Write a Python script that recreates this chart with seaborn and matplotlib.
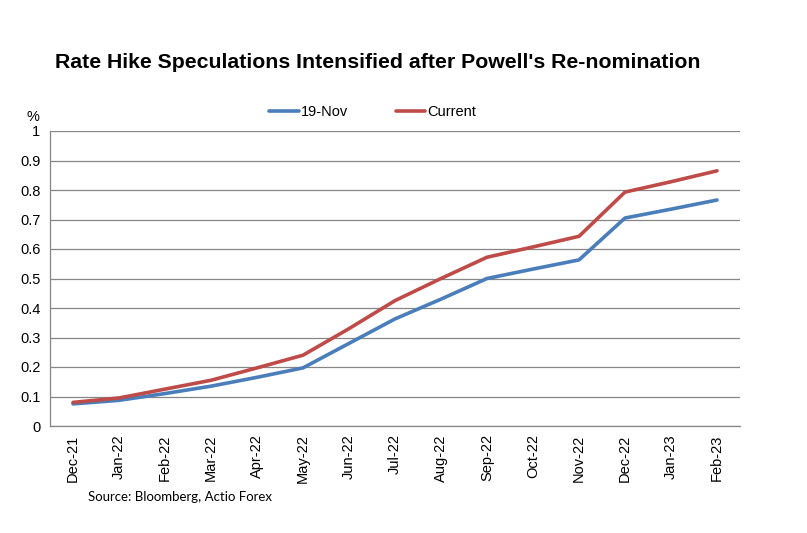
import numpy as np
import matplotlib
matplotlib.use('Agg')
import matplotlib.pyplot as plt
import seaborn as sns
import pandas as pd
from matplotlib.ticker import FixedLocator

months = ['Dec-21', 'Jan-22', 'Feb-22', 'Mar-22', 'Apr-22', 'May-22', 'Jun-22', 'Jul-22',
          'Aug-22', 'Sep-22', 'Oct-22', 'Nov-22', 'Dec-22', 'Jan-23', 'Feb-23']
nov19 = [0.075, 0.087, 0.110, 0.135, 0.165, 0.197, 0.280, 0.363,
         0.430, 0.500, 0.532, 0.563, 0.705, 0.735, 0.766]
current = [0.080, 0.095, 0.125, 0.155, 0.197, 0.240, 0.330, 0.425,
           0.500, 0.572, 0.607, 0.643, 0.793, 0.828, 0.865]
series_names = ['19-Nov', 'Current']
yticks = [0, 0.1, 0.2, 0.3, 0.4, 0.5, 0.6, 0.7, 0.8, 0.9, 1]
ytick_labels = ['0', '0.1', '0.2', '0.3', '0.4', '0.5', '0.6', '0.7', '0.8', '0.9', '1']

df = pd.DataFrame({
    'month': months * 2,
    'value': nov19 + current,
    'series': [series_names[0]] * len(months) + [series_names[1]] * len(months),
})

sns.set_style('white')
plt.rcParams['font.family'] = ['Liberation Sans', 'DejaVu Sans']
plt.rcParams['text.color'] = 'black'
plt.rcParams['xtick.color'] = 'black'
plt.rcParams['ytick.color'] = 'black'

fig = plt.figure(figsize=(8.07, 5.33), dpi=100)
ax = fig.add_axes([50 / 807, 1 - 426 / 533, 690 / 807, 295 / 533])

palette = {'19-Nov': '#4a7ebb', 'Current': '#be4b48'}
sns.lineplot(data=df, x='month', y='value', hue='series', palette=palette,
             linewidth=2.6, ax=ax, sort=False)

ax.set_xlim(-0.5, len(months) - 0.5)
ax.set_ylim(0, 1)
ax.set_yticks(yticks)
ax.set_yticklabels(ytick_labels, fontsize=10.5)
ax.set_xticks(range(len(months)))
ax.set_xticklabels(months, rotation=90, fontsize=10.5)
ax.xaxis.set_minor_locator(FixedLocator(np.arange(-0.5, len(months), 1)))
ax.tick_params(axis='x', which='major', length=0, pad=6, colors='black')
ax.tick_params(axis='x', which='minor', length=5, color='#868686', direction='out')
ax.tick_params(axis='y', which='major', length=4, color='#868686', labelcolor='black',
               direction='out', pad=3)
ax.set(xlabel=None, ylabel=None)

ax.grid(axis='y', color='#868686', linewidth=0.9)
ax.set_axisbelow(True)
for side in ['top', 'right']:
    ax.spines[side].set_visible(False)
for side in ['left', 'bottom']:
    ax.spines[side].set_color('#868686')
    ax.spines[side].set_linewidth(0.9)

leg = ax.legend(loc='center', bbox_to_anchor=(0.468, 1.064), ncol=2, frameon=False,
                fontsize=10.5, handlelength=2.0, columnspacing=3.3, handletextpad=0.15)
for line in leg.get_lines():
    line.set_linewidth(2.6)

fig.text(33 / 807, 1 - 117 / 533, '%', fontsize=10.5, ha='center', va='center')
fig.text(378 / 807, 1 - 63 / 533, "Rate Hike Speculations Intensified after Powell's Re-nomination",
         fontsize=15.3, fontweight='bold', ha='center', va='center', color='black')
fig.text(88 / 807, 1 - 497 / 533, 'Source: Bloomberg, Actio Forex', fontsize=9.5,
         ha='left', va='center', family=['Lato', 'DejaVu Sans'])

fig.savefig('out.png', dpi=100)
